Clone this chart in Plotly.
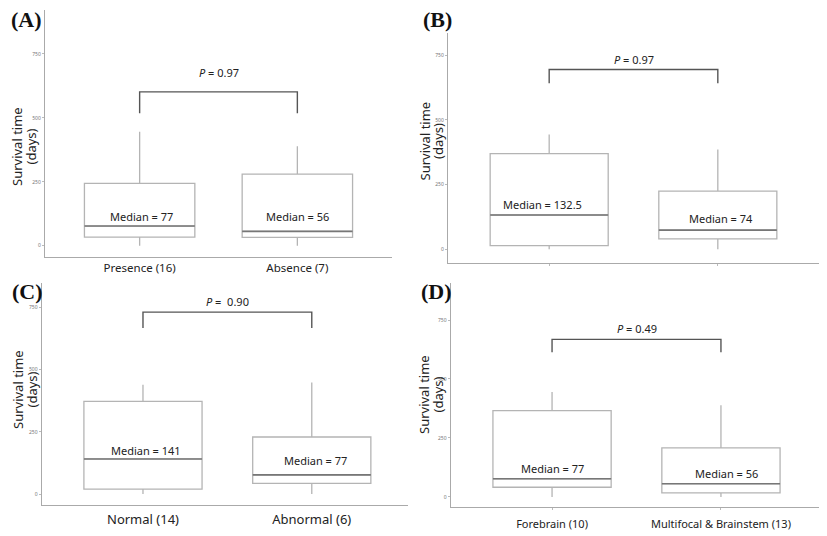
import plotly.graph_objects as go

# The page body adds an 8px margin, so the figure is drawn 8px in from the window corner.
OFF = 8
W, H = 827 - OFF, 536 - OFF

# ---------------- data ----------------
panel_letters = ["(A)", "(B)", "(C)", "(D)"]
cat_labels_A = ["Presence (16)", "Absence (7)"]
cat_labels_B = ["", ""]
cat_labels_C = ["Normal (14)", "Abnormal (6)"]
cat_labels_D = ["Forebrain (10)", "Multifocal & Brainstem (13)"]

lower_A = [0, 0];    q1_A = [34, 33];  med_A = [77, 56];     q3_A = [244, 280]; upper_A = [445, 389]
lower_B = [0, 0];    q1_B = [14, 40];  med_B = [132.5, 74];  q3_B = [370, 225]; upper_B = [444, 386]
lower_C = [0, 0];    q1_C = [20, 43];  med_C = [141, 77];    q3_C = [372, 229]; upper_C = [439, 448]
lower_D = [0, 0];    q1_D = [41, 17];  med_D = [77, 56];     q3_D = [366, 208]; upper_D = [445, 389]

p_values = ["0.97", "0.97", "0.90", "0.49"]
y_ticks = [0, 250, 500, 750]
y_title_lines = ["Survival time", "(days)"]

# ---------------- layout helpers (window pixels -> paper fractions) ----------------
def fx(px):
    return (px - OFF) / W

def fy(py):
    return 1 - (py - OFF) / H

panels = [
    dict(cats=cat_labels_A, lo=lower_A, q1=q1_A, med=med_A, q3=q3_A, hi=upper_A,
         xd=(45, 392), yd=(257, 10), yr=(-44, 921), xr=(-0.6, 1.6),
         br=(601, 518), pt=676, mt=[(0.01, 116), (0.0, 116)], tfs=11.5, stand=0,
         letter_pos=(26, 20), title_x=(17, 30.5), title_y=147, tick_len=0),
    dict(cats=cat_labels_B, lo=lower_B, q1=q1_B, med=med_B, q3=q3_B, hi=upper_B,
         xd=(448, 819), yd=(262.7, 33), yr=(-52, 836), xr=(-0.6, 1.6),
         br=(695, 642), pt=734, mt=[(-0.04, 174), (0.02, 117)], tfs=11.5, stand=2,
         letter_pos=(437, 20), title_x=(424.5, 438), title_y=141, tick_len=2),
    dict(cats=cat_labels_C, lo=lower_C, q1=q1_C, med=med_C, q3=q3_C, hi=upper_C,
         xd=(41.7, 408), yd=(505.3, 283), yr=(-45, 847), xr=(-0.6, 1.57),
         br=(730, 666), pt=773, mt=[(0.02, 174), (0.02, 134)], tfs=13, stand=2,
         letter_pos=(27, 291), title_x=(18, 31.5), title_y=390, tick_len=0),
    dict(cats=cat_labels_D, lo=lower_D, q1=q1_D, med=med_D, q3=q3_D, hi=upper_D,
         xd=(450.7, 822.3), yd=(507.3, 283), yr=(-44, 907), xr=(-0.6, 1.6),
         br=(668, 613), pt=716, mt=[(0.0, 120), (0.03, 99)], tfs=11, stand=4,
         letter_pos=(436, 291), title_x=(424, 437.5), title_y=395, tick_len=2),
]

fig = go.Figure()
annotations = []
shapes = []
FONT = "Noto Sans"

for i, p in enumerate(panels):
    n = "" if i == 0 else str(i + 1)
    xa, ya = "x" + n, "y" + n
    xkey, ykey = "xaxis" + n, "yaxis" + n
    xs = list(range(len(p["cats"])))
    for j, xv in enumerate(xs):
        fig.add_trace(go.Box(
            x=[xv], q1=[p["q1"][j]], median=[p["med"][j]], q3=[p["q3"][j]],
            lowerfence=[p["lo"][j]], upperfence=[p["hi"][j]],
            width=0.7, whiskerwidth=0, fillcolor="white",
            line=dict(color="#b4b4b4", width=1.3),
            boxpoints=False, showlegend=False, hoverinfo="skip",
            xaxis=xa, yaxis=ya))
        # darker median line
        fig.add_trace(go.Scatter(
            x=[xv - 0.35, xv + 0.35], y=[p["med"][j], p["med"][j]], mode="lines",
            line=dict(color="#777777", width=1.6), showlegend=False, hoverinfo="skip",
            xaxis=xa, yaxis=ya))
        dx, ty = p["mt"][j]
        annotations.append(dict(
            x=xv + dx, y=ty, xref=xa, yref=ya, text="Median = " + str(p["med"][j]),
            xanchor="center", yanchor="middle",
            showarrow=False, font=dict(family=FONT, size=11, color="#222222")))

    # significance bracket
    h, leg = p["br"]
    shapes.append(dict(type="path", xref=xa, yref=ya,
                       path=f"M 0 {leg} L 0 {h} L 1 {h} L 1 {leg}",
                       line=dict(color="#555555", width=1.4)))
    annotations.append(dict(
        x=0.5, y=p["pt"], xref=xa, yref=ya, xanchor="center", yanchor="middle",
        text=("<i>P</i> =  " if i == 2 else "<i>P</i> = ") + p_values[i],
        showarrow=False, font=dict(family=FONT, size=11, color="#222222")))

    fig.layout[xkey] = dict(
        domain=[fx(p["xd"][0]), fx(p["xd"][1])], range=list(p["xr"]),
        anchor=ya, tickmode="array", tickvals=xs, ticktext=p["cats"],
        showgrid=False, zeroline=False, showline=True, linecolor="#aaaaaa", linewidth=1.3,
        ticks="outside", ticklen=p["tick_len"], tickcolor="#bbbbbb",
        ticklabelstandoff=p["stand"],
        tickfont=dict(family=FONT, size=p["tfs"], color="#222222"), fixedrange=True)
    fig.layout[ykey] = dict(
        domain=[fy(p["yd"][0]), fy(p["yd"][1])], range=list(p["yr"]),
        anchor=xa, tickmode="array", tickvals=y_ticks,
        ticktext=[str(t) for t in y_ticks],
        showgrid=False, zeroline=False, showline=True, linecolor="#aaaaaa", linewidth=1.3,
        ticks="outside", ticklen=2, tickcolor="#bbbbbb",
        tickfont=dict(family=FONT, size=5, color="#777777"), fixedrange=True)

    # y-axis title (two tightly spaced lines)
    for k, line in enumerate(y_title_lines):
        annotations.append(dict(
            x=fx(p["title_x"][k]), y=fy(p["title_y"]), xref="paper", yref="paper",
            xanchor="center", yanchor="middle",
            text=line, textangle=-90, showarrow=False,
            font=dict(family=FONT, size=13, color="#222222")))
    # panel letter
    lx, ly = p["letter_pos"]
    annotations.append(dict(
        x=fx(lx), y=fy(ly), xref="paper", yref="paper", xanchor="center", yanchor="middle",
        text="<b>" + panel_letters[i] + "</b>",
        showarrow=False, font=dict(family="Liberation Serif", size=22, color="#111111")))

fig.update_layout(
    width=W, height=H, margin=dict(l=0, r=0, t=0, b=0),
    paper_bgcolor="white", plot_bgcolor="white",
    annotations=annotations, shapes=shapes, showlegend=False)

fig.write_html("out.html")
